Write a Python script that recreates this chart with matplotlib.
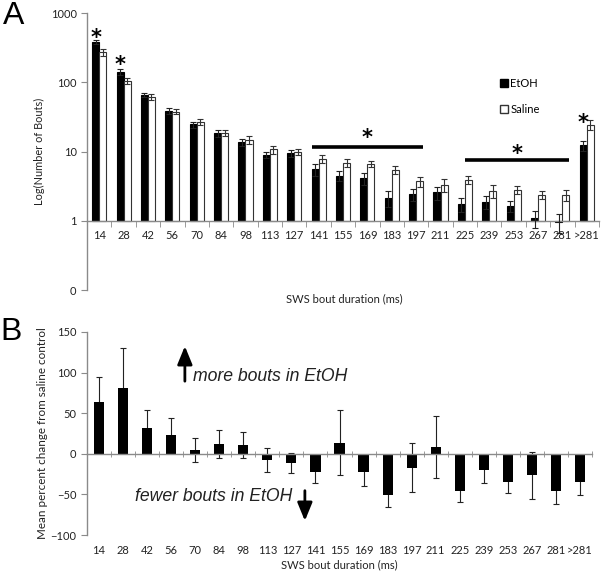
"""
Bouts de sono SWS: EtOH vs Saline (painel A) e variação percentual (painel B)
"""

import matplotlib.pyplot as plt
from matplotlib.patches import Patch
import numpy as np

# Dados
categorias = ['14', '28', '42', '56', '70', '84', '98', '113', '127', '141', '155',
              '169', '183', '197', '211', '225', '239', '253', '267', '281', '>281']

etoh = [380, 140, 66, 39, 24.6, 18.2, 13.6, 9.0, 9.4, 5.5, 4.5,
        4.1, 2.15, 2.4, 2.57, 1.72, 1.87, 1.65, 1.08, 0.97, 12.3]
etoh_err = [25, 13, 5, 4, 2.5, 2, 1.5, 1.0, 1.0, 1.0, 0.7,
            0.85, 0.55, 0.5, 0.55, 0.4, 0.38, 0.3, 0.3, 0.3, 2]
saline = [270, 105, 61, 37.5, 26.5, 18.6, 14.9, 10.7, 10.0, 7.9, 6.9,
          6.6, 5.4, 3.7, 3.3, 3.9, 2.7, 2.8, 2.38, 2.36, 24.4]
saline_err = [30, 12, 6, 3, 2.5, 2, 2, 1.5, 1.0, 1.0, 0.9,
              0.6, 0.7, 0.6, 0.7, 0.5, 0.6, 0.4, 0.3, 0.43, 4]

mudanca = [64, 81.5, 32, 22.6, 4.9, 12.3, 11.1, -7.4, -11.1, -21.9, 13.6,
           -21.9, -50.6, -17.3, 8.2, -45.7, -19.4, -34.2, -26.4, -45.7, -35]
mudanca_err = [30, 49, 22, 22, 15, 17, 16, 15, 12, 14, 40,
               18, 15, 30, 38, 14, 17, 14, 29, 16, 16]

CINZA = '#8a8a8a'
TEXTO = '#222222'
FONTE = 'Lato'

fig = plt.figure(figsize=(6.01, 5.73), dpi=100)
x = np.arange(len(categorias))

# ---------------- Painel A ----------------
axA = fig.add_axes([87 / 601, 1 - 290 / 573, 512 / 601, 277 / 573])
w = 0.29
axA.bar(x - w / 2, np.array(etoh) - 1, bottom=1, width=w, color='black',
        edgecolor='black', linewidth=0.8, zorder=2)
axA.bar(x + w / 2, np.array(saline) - 1, bottom=1, width=w, color='white',
        edgecolor='#333333', linewidth=0.8, zorder=2)
axA.errorbar(x - w / 2, etoh, yerr=etoh_err, fmt='none', ecolor='#222222',
             elinewidth=0.8, capsize=2, capthick=0.8, zorder=3)
axA.errorbar(x + w / 2, saline, yerr=saline_err, fmt='none', ecolor='#333333',
             elinewidth=0.8, capsize=2, capthick=0.8, zorder=3)

axA.set_yscale('log')
axA.set_ylim(0.1, 1000)
axA.set_xlim(-0.5, len(categorias) - 0.5)
axA.set_yticks([0.1, 1, 10, 100, 1000])
axA.set_yticklabels(['0', '1', '10', '100', '1000'])
axA.yaxis.set_minor_locator(plt.NullLocator())

axA.spines['top'].set_visible(False)
axA.spines['right'].set_visible(False)
axA.spines['bottom'].set_position(('data', 1))
for s in ['left', 'bottom']:
    axA.spines[s].set_color(CINZA)
    axA.spines[s].set_linewidth(1)

axA.set_xticks(x)
axA.set_xticklabels(categorias)
axA.set_xticks(np.arange(len(categorias) + 1) - 0.5, minor=True)
axA.tick_params(axis='x', which='major', length=0, pad=7, labelsize=8, colors=TEXTO)
axA.tick_params(axis='x', which='minor', length=4, color=CINZA, direction='out')
axA.tick_params(axis='y', length=4, color=CINZA, labelsize=8, labelcolor=TEXTO)

axA.set_ylabel('Log(Number of Bouts)', fontsize=7.9, color=TEXTO, family=FONTE)
axA.yaxis.set_label_coords(-0.082, 0.5)
axA.set_xlabel('SWS bout duration (ms)', fontsize=8, color=TEXTO, family=FONTE)
axA.xaxis.set_label_coords(0.502, -0.012)
for lbl in axA.get_xticklabels() + axA.get_yticklabels():
    lbl.set_family(FONTE)

# Asteriscos de significância
estrela = dict(ha='center', va='center', fontsize=15, fontweight='bold',
               color='black', family='DejaVu Sans')
axA.text(x[0] - w / 2, 440, '*', **estrela)
axA.text(x[1] - w / 2, 175, '*', **estrela)
axA.text(x[-1] - w / 2, 26, '*', **estrela)
axA.plot([x[9] - w, x[13] + w], [11.8, 11.8], color='black', lw=2.6, solid_capstyle='butt')
axA.text((x[9] + x[13]) / 2, 15.5, '*', **estrela)
axA.plot([x[15], x[19] + w], [7.65, 7.65], color='black', lw=2.6, solid_capstyle='butt')
axA.text((x[15] + x[19]) / 2 + w / 2, 9.1, '*', **estrela)

handles = [Patch(facecolor='black', edgecolor='black', label='EtOH'),
           Patch(facecolor='white', edgecolor='#333333', label='Saline')]
axA.legend(handles=handles, loc='upper left', bbox_to_anchor=(0.795, 0.785),
           frameon=False, handlelength=0.75, handleheight=0.75, handletextpad=0.2,
           labelspacing=1.3, borderpad=0, prop={'family': FONTE, 'size': 8})

fig.text(3 / 601, 1 - 16 / 573, 'A', fontsize=23, family='Liberation Sans',
         va='center', ha='left')

# ---------------- Painel B ----------------
axB = fig.add_axes([87 / 601, 1 - 535 / 573, 505 / 601, 203 / 573])
axB.bar(x, mudanca, width=0.42, color='black', zorder=2)
axB.errorbar(x, mudanca, yerr=mudanca_err, fmt='none', ecolor='#222222',
             elinewidth=0.8, capsize=2, capthick=0.8, zorder=1)

axB.set_ylim(-100, 150)
axB.set_xlim(-0.5, len(categorias) - 0.5)
axB.set_yticks([-100, -50, 0, 50, 100, 150])
axB.spines['top'].set_visible(False)
axB.spines['right'].set_visible(False)
axB.spines['bottom'].set_position(('data', 0))
for s in ['left', 'bottom']:
    axB.spines[s].set_color(CINZA)
    axB.spines[s].set_linewidth(1)

axB.set_xticks(x)
axB.set_xticklabels(categorias)
axB.set_xticks(np.arange(len(categorias) + 1) - 0.5, minor=True)
axB.tick_params(axis='x', which='major', length=0, pad=66, labelsize=8, colors=TEXTO)
axB.tick_params(axis='x', which='minor', length=4, color=CINZA, direction='inout')
axB.tick_params(axis='y', length=4, color=CINZA, labelsize=8, labelcolor=TEXTO)
for lbl in axB.get_xticklabels() + axB.get_yticklabels():
    lbl.set_family(FONTE)

axB.set_ylabel('Mean percent change from saline control', fontsize=8.4,
               color=TEXTO, family=FONTE)
axB.yaxis.set_label_coords(-0.077, 0.5)
axB.set_xlabel('SWS bout duration (ms)', fontsize=8, color=TEXTO, family=FONTE)
axB.xaxis.set_label_coords(0.5, -0.118)

# Setas e anotações
seta = dict(arrowstyle='-|>,head_length=1.1,head_width=0.45', color='black', lw=2)
axB.annotate('', xy=(3.57, 136), xytext=(3.57, 86), arrowprops=seta)
axB.text(3.9, 95, 'more bouts in EtOH', fontsize=12.7, style='italic',
         family='Liberation Sans', va='center', ha='left', color=TEXTO)
axB.annotate('', xy=(8.56, -86), xytext=(8.56, -42), arrowprops=seta)
axB.text(1.5, -53, 'fewer bouts in EtOH', fontsize=12.7, style='italic',
         family='Liberation Sans', va='center', ha='left', color=TEXTO)

fig.text(0 / 601, 1 - 332 / 573, 'B', fontsize=23, family='Liberation Sans',
         va='center', ha='left')

plt.savefig('out.png', dpi=100)
plt.close()
